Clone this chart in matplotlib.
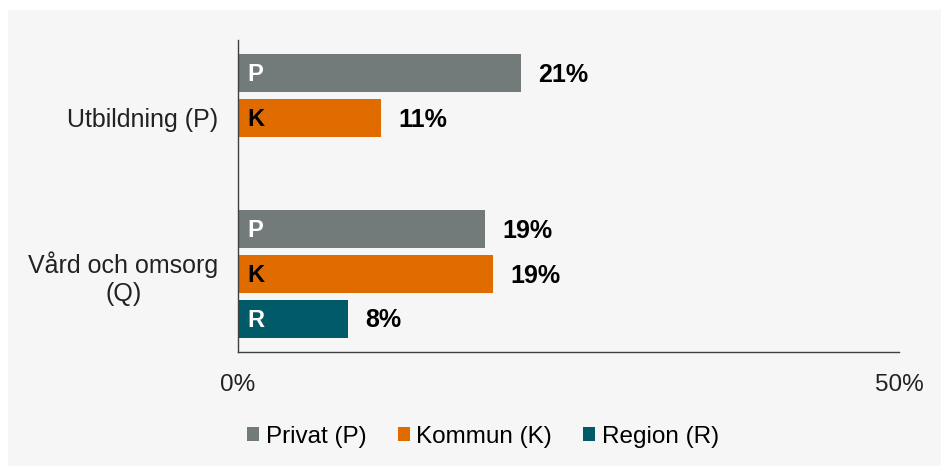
import matplotlib.pyplot as plt
import numpy as np
from matplotlib.patches import Rectangle

plt.rcParams['font.family'] = ['Liberation Sans', 'DejaVu Sans']

categories = ['Utbildning (P)', 'Vård och omsorg\n(Q)']
series = ['Privat (P)', 'Kommun (K)', 'Region (R)']
letters = ['P', 'K', 'R']
# shares in percent
privat = [21.4, 18.7]
kommun = [10.8, 19.3]
region = [np.nan, 8.3]
values = [privat, kommun, region]

colors = ['#737a7a', '#e06c00', '#005a68']
letter_colors = ['white', 'black', 'white']

fig = plt.figure(figsize=(9.41, 4.66), dpi=100)
fig.patch.set_facecolor('white')
# light gray panel behind the chart
fig.patches.append(Rectangle((8 / 941, 0), 933 / 941, 456 / 466,
                             transform=fig.transFigure, facecolor='#f6f6f6',
                             edgecolor='none', zorder=-10))

ax = fig.add_axes([238 / 941, 1 - 352 / 466, 661 / 941, 312 / 466])
ax.set_facecolor('none')

y = np.arange(len(categories))
slot = 0.288
height = 0.245
for i, (name, vals) in enumerate(zip(series, values)):
    pos = y + (i - 1) * slot
    ax.barh(pos, vals, height=height, color=colors[i], label=name)
    for p, v in zip(pos, vals):
        if np.isnan(v):
            continue
        ax.text(0.7, p + 0.01, letters[i], color=letter_colors[i], fontsize=17,
                fontweight='bold', va='center', ha='left')
        ax.text(v + 1.3, p + 0.01, f'{v:.0f}%', color='black', fontsize=18,
                fontweight='bold', va='center', ha='left')

ax.set_xlim(0, 50)
ax.set_ylim(1.5, -0.5)
ax.set_xticks([0, 50])
ax.set_xticklabels(['0%', '50%'], fontsize=17.5, color='#222222')
ax.set_yticks(y)
ax.set_yticklabels(categories, fontsize=18, color='#222222',
                   multialignment='center')
ax.tick_params(length=0)
ax.tick_params(axis='x', pad=16)
ax.tick_params(axis='y', pad=14)
for s in ['top', 'right']:
    ax.spines[s].set_visible(False)
for s in ['left', 'bottom']:
    ax.spines[s].set_color('#404040')
    ax.spines[s].set_linewidth(1.0)

handles, labels = ax.get_legend_handles_labels()
fig.legend(handles, labels, loc='center', bbox_to_anchor=(483 / 941, 1 - 437 / 466),
           ncol=3, frameon=False, fontsize=17.5, handlelength=0.5,
           handleheight=0.5, handletextpad=0.25, columnspacing=1.3)

plt.savefig('out.png', dpi=100)
